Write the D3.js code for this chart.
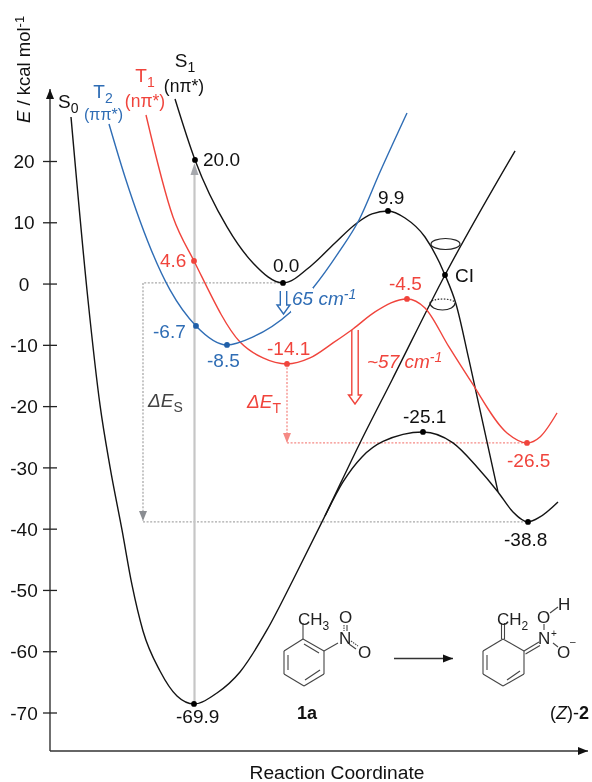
<!DOCTYPE html>
<html><head><meta charset="utf-8">
<script src="https://cdn.jsdelivr.net/npm/d3@7"></script>
<style>
html,body{margin:0;padding:0;background:#fff}
svg{display:block;filter:blur(0.45px)}
text{font-family:"Liberation Sans",Arial,sans-serif;font-size:19px;fill:#111}
</style></head><body>
<svg id="c" width="592" height="782"></svg>
<script>
// ---- data: [reaction coordinate, E / kcal mol-1] ----
const yTicks = [20,10,0,-10,-20,-30,-40,-50,-60,-70];
const s0Curve = [[21,27.19],[38,-2.68],[50,-19.81],[60,-29.93],[72,-40.21],[82,-49.19],[93,-56.69],[110,-63.22],[127,-67.3],[144,-68.6],[167,-66.81],[190,-63.38],[217,-56.53],[243,-48.37],[272,-38.9],[310,-26.01],[342,-15.73],[395,1.4],[465,21.64]];
const s0Upper = [[275,-37.93],[293,-32.38],[312,-28.3],[333,-25.77],[373,-24.22],[403,-26.01],[427,-29.93],[448,-34.01],[463,-37.27],[478,-38.9],[490,-38.09],[508,-35.64]];
const s1Curve = [[125,30.12],[145,20.17],[177,9.24],[203,3.36],[233,0.1],[262,3.04],[285,6.63],[307,9.89],[322,11.36],[338,11.85],[355,10.7],[375,7.6],[395,1.4],[406,-3.33],[419,-12.47],[448,-34.01]];
const t1Curve = [[96,27.51],[123,10.87],[144,3.69],[190,-9.53],[213,-12.14],[237,-13.12],[260,-12.14],[283,-9.69],[303,-7.41],[325,-4.63],[357,-2.51],[375,-3.98],[399,-10.35],[420,-15.73],[457,-24.38],[477,-26.01],[490,-25.03],[507,-21.12]];
const t2Curve = [[59,26.04],[75,17.4],[120,-1.04],[146,-6.92],[177,-10.02],[203,-8.71],[240,-4.72],[263,-0.72],[289,5.16],[309,10.38],[330,18.21],[357,27.84]];
const blackDots = [[145,20.17],[233,0.1],[338,11.85],[395,1.4],[144,-68.6],[373,-24.22],[478,-38.9]];
const redDots = [[144,3.69],[237,-13.12],[357,-2.51],[477,-26.01]];
const blueDots = [[146,-6.92],[177,-10.02]];
const blackLabels = ["20.0","0.0","9.9","-25.1","-38.8","-69.9","CI"];
const redLabels = ["4.6","-14.1","-4.5","-26.5"];
const blueLabels = ["-6.7","-8.5"];

const BLACK="#141414", RED="#f0443c", BLUE="#2f6db5", GREY="#c6c6c6", DGREY="#8a8d92", PINK="#f58a85";
const svg = d3.select("#c");
const x = d3.scaleLinear().domain([0,538]).range([50,588]);
const y = d3.scaleLinear().domain([20,-70]).range([161,712.5]);
const line = d3.line().x(d=>x(d[0])).y(d=>y(d[1])).curve(d3.curveMonotoneX);

// defs
const defs = svg.append("defs");
function head(id,c){
  defs.append("marker").attr("id",id).attr("viewBox","0 0 10 10").attr("refX",10).attr("refY",5)
    .attr("markerWidth",10).attr("markerHeight",10).attr("markerUnits","userSpaceOnUse").attr("orient","auto")
    .append("path").attr("d","M0,1L10,5L0,9Z").attr("fill",c);
}
head("hk","#111");head("hg",DGREY);head("hr",PINK);

// axes
const axisY = 751, axisX = 50;
const yAxis = d3.axisLeft(y).tickValues(yTicks).tickSize(0).tickFormat(String);
const gy = svg.append("g").attr("transform",`translate(${axisX},0)`).call(yAxis);
gy.select(".domain").remove();
gy.selectAll(".tick line").attr("x1",-7).attr("x2",7).attr("stroke","#222").attr("stroke-width",1.3);
gy.selectAll(".tick text").attr("x",-26).attr("dy","0.35em").attr("text-anchor","middle").style("font-size","19px").style("font-family",'"Liberation Sans",sans-serif').style("fill","#111");
svg.append("line").attr("x1",axisX).attr("x2",axisX).attr("y1",axisY).attr("y2",89).attr("stroke","#222").attr("stroke-width",1.3).attr("marker-end","url(#hk)");
svg.append("line").attr("x1",axisX).attr("x2",588).attr("y1",axisY).attr("y2",axisY).attr("stroke","#333").attr("stroke-width",1.3).attr("marker-end","url(#hk)");

// rich text helper: segments [text, {i,b,sub,sup}]
function rich(px,py,segs,color,size,anchor,rot){
  const t = svg.append("text").attr("x",px).attr("y",py).attr("text-anchor",anchor||"start").style("fill",color||"#111").style("font-size",(size||19)+"px");
  if(rot) t.attr("transform",`rotate(${rot} ${px} ${py})`);
  let shift=0;
  segs.forEach(s=>{
    const o = s[1]||{};
    const ts = t.append("tspan").text(s[0]);
    if(o.i) ts.style("font-style","italic");
    if(o.b) ts.style("font-weight","bold");
    const target = o.sub?5:o.sup?-6:0;
    if(target!==shift){ts.attr("dy",target-shift);shift=target;}
    if(o.sub||o.sup) ts.style("font-size",Math.round((size||19)*0.72)+"px");
  });
  return t;
}

// guides
function dash(x1,y1,x2,y2,c,m){
  const l=svg.append("line").attr("x1",x1).attr("y1",y1).attr("x2",x2).attr("y2",y2).attr("stroke",c).attr("stroke-width",1.3).attr("stroke-dasharray","2 1.6");
  if(m) l.attr("marker-end",`url(#${m})`);
}
const gx=143;
dash(x(233),y(0.1),gx,y(0.1),"#a9a9a9");
dash(gx,y(0.1),gx,y(-38.9)-1,"#a9a9a9","hg");
dash(gx,y(-38.9),x(478),y(-38.9),"#a9a9a9");
dash(x(237),y(-13.12),x(237),y(-26.01),PINK,"hr");
dash(x(237),y(-26.01),x(477),y(-26.01),PINK);
// vertical excitation
svg.append("line").attr("x1",x(144.5)).attr("x2",x(144.5)).attr("y1",y(-68.6)).attr("y2",174).attr("stroke",GREY).attr("stroke-width",2.2);
svg.append("path").attr("d",`M${x(144.5)},163 l-4,12 h8 Z`).attr("fill","#a6a8ad");

// curves
[[s0Curve,BLACK],[s0Upper,BLACK],[s1Curve,BLACK],[t1Curve,RED],[t2Curve,BLUE]].forEach(([d,c])=>{
  svg.append("path").attr("d",line(d)).attr("fill","none").attr("stroke",c).attr("stroke-width",1.4);
});
// break in T2 for its frequency label
svg.append("rect").attr("x",291).attr("y",288).attr("width",22).attr("height",24).attr("fill","#fff");

// cones
function arc(cx,cy,rx,ry,top,dashArr){
  const p=svg.append("path").attr("d",`M${cx-rx},${cy} A${rx},${ry} 0 0 ${top?1:0} ${cx+rx},${cy}`).attr("fill","none").attr("stroke","#222").attr("stroke-width",1.2);
  if(dashArr) p.attr("stroke-dasharray",dashArr);
}
arc(445.5,244,14.5,5.5,true);arc(445.5,244,14.5,5.5,false);
arc(442.5,303,12.5,4,true,"1.5 1.5");arc(442.5,303,12.5,7,false);

// hollow arrows
function hollow(xc,y0,y1,c){
  const g=svg.append("g").attr("fill","none").attr("stroke",c).attr("stroke-width",1.4);
  g.append("path").attr("d",`M${xc-3.2},${y0} V${y1-9} H${xc-6.5} L${xc},${y1} L${xc+6.5},${y1-9} H${xc+3.2} V${y0}`);
}
hollow(283.5,291,314,BLUE);
hollow(355,330,404,RED);

// dots
function dots(d,c){svg.append("g").selectAll("circle").data(d).join("circle").attr("cx",p=>x(p[0])).attr("cy",p=>y(p[1])).attr("r",2.9).attr("fill",c);}
dots(blackDots,"#000");dots(redDots,RED);dots(blueDots,"#1f5fa8");

// labels
const lab=(s,px,py,c)=>svg.append("text").attr("x",px).attr("y",py).style("fill",c).text(s);
[[203,166],[273,272],[378,204],[403,423],[504,546],[176,723],[455,282]].forEach((p,i)=>lab(blackLabels[i],p[0],p[1],"#111"));
[[160,267],[267,355],[389,290],[507,467]].forEach((p,i)=>lab(redLabels[i],p[0],p[1],RED));
[[153,338],[207,367]].forEach((p,i)=>lab(blueLabels[i],p[0],p[1],BLUE));

rich(58,108,[["S"],["0",{sub:1}]],"#111");
rich(103,98,[["T"],["2",{sub:1}]],BLUE,19,"middle");
rich(103.5,120,[["(ππ*)"]],BLUE,16,"middle");
rich(145,82,[["T"],["1",{sub:1}]],RED,19,"middle");
rich(145,107,[["(nπ*)"]],RED,17.5,"middle");
rich(185,67,[["S"],["1",{sub:1}]],"#111",19,"middle");
rich(184,92,[["(nπ*)"]],"#111",17.5,"middle");

rich(148,407,[["ΔE",{i:1}],["S",{sub:1}]],"#444");
rich(247,408,[["ΔE",{i:1}],["T",{sub:1}]],RED);
rich(292,305,[["65 cm",{i:1}],["-1",{i:1,sup:1}]],BLUE);
rich(367,368,[["~57 cm",{i:1}],["-1",{i:1,sup:1}]],RED);

// axis titles
rich(30,123,[["E",{i:1}],[" / kcal mol"],["-1",{sup:1}]],"#111",18.5,"start",-90);
svg.append("text").attr("x",337).attr("y",779).attr("text-anchor","middle").style("font-size","19.2px").text("Reaction Coordinate");

// reaction scheme
const mol=svg.append("g").attr("stroke","#444").attr("stroke-width",1.1).attr("fill","none");
const bond=(a,b,c,d)=>mol.append("line").attr("x1",a).attr("y1",b).attr("x2",c).attr("y2",d);
// 1a
[[303,639,324,651],[324,651,324,674],[324,674,304,686],[304,686,284,674],[284,674,284,651],[284,651,303,639],
 [304,644,319,653],[320,670,305,680],[288,670,288,655],
 [303,639,303,623],[324,651,338,643]].forEach(b=>bond(...b));
bond(344,625,344,631).attr("stroke-dasharray","1.5 1");bond(347,625,347,631);
bond(351,641,358,646).attr("stroke-dasharray","1.5 1");bond(349,644,356,649);
// (Z)-2
[[503,639,524,651],[524,651,524,674],[524,674,503,686],[503,686,483,674],[483,674,483,651],[483,651,503,639],
 [507,680,520,671],[487,670,487,655],
 [501.5,639,501.5,623],[504.5,639,504.5,623],[524,651,539,642],[525.5,654,540,645.5],
 [544,630,544,624],[550,613,558,607],[553,643,558,647]].forEach(b=>bond(...b));
mol.append("line").attr("x1",394).attr("y1",658.5).attr("x2",453).attr("y2",658.5).attr("stroke","#333").attr("stroke-width",1.4).attr("marker-end","url(#hk)");
const chem=(segs,px,py,anchor)=>rich(px,py,segs,"#222",17,anchor);
chem([["CH"],["3",{sub:1}]],298,625);
chem([["N"]],339,644);
chem([["O"]],339,623);
chem([["O"]],358,658);
chem([["CH"],["2",{sub:1}]],497,625);
rich(538,644,[["N"]],"#222",17);
rich(551,637,[["+"]],"#222",10);
chem([["O"]],537,623);
chem([["H"]],558,610);
chem([["O"]],557,658);
rich(570,645,[["–"]],"#222",10);
rich(307,719,[["1a",{b:1}]],"#111",18,"middle");
rich(550,719,[["("],["Z",{i:1}],[")-"],["2",{b:1}]],"#111",18);
</script>
</body></html>
